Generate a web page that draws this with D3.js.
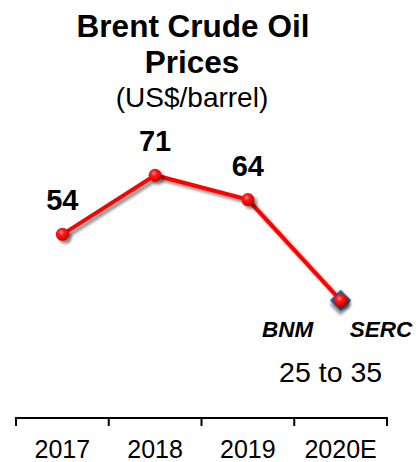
<!DOCTYPE html>
<html><head><meta charset="utf-8">
<script src="https://cdn.jsdelivr.net/npm/d3@7/dist/d3.min.js"></script>
<style>
html,body{margin:0;padding:0;background:#fff;}
svg{display:block;font-family:Arial,"Liberation Sans",sans-serif;}
</style></head>
<body>
<svg id="c" width="416" height="462"></svg>
<script>
const categories = ["2017", "2018", "2019", "2020E"];
const prices = [54, 71, 64, 35];
const valueLabels = ["54", "71", "64", null];
const titleLines = ["Brent Crude Oil", "Prices"];
const subtitle = "(US$/barrel)";
const estimateSources = ["BNM", "SERC"];
const estimateRange = "25 to 35";

const svg = d3.select("#c");
const defs = svg.append("defs");
const grad = defs.append("radialGradient").attr("id","ball").attr("cx","40%").attr("cy","35%").attr("r","65%");
grad.append("stop").attr("offset","0%").attr("stop-color","#ff8a8a");
grad.append("stop").attr("offset","35%").attr("stop-color","#ff1a1a");
grad.append("stop").attr("offset","100%").attr("stop-color","#c00000");
const sh = defs.append("filter").attr("id","shadow").attr("x","-50%").attr("y","-50%").attr("width","200%").attr("height","200%");
sh.append("feGaussianBlur").attr("in","SourceAlpha").attr("stdDeviation","1.6").attr("result","b");
sh.append("feOffset").attr("in","b").attr("dx","3").attr("dy","3").attr("result","o");
sh.append("feComponentTransfer").attr("in","o").attr("result","o2").append("feFuncA").attr("type","linear").attr("slope","0.45");
const mg = sh.append("feMerge");
mg.append("feMergeNode").attr("in","o2");
mg.append("feMergeNode").attr("in","SourceGraphic");

const x = d3.scaleBand().domain(categories).range([16, 387]).padding(0);
const y = d3.scaleLinear().domain([0, 80]).range([422, 144]);
const cx = c => x(c) + x.bandwidth()/2;

// Title
svg.append("text").attr("x",193).attr("y",37).attr("text-anchor","middle")
  .attr("font-size",31.5).attr("font-weight","bold").text(titleLines[0]);
svg.append("text").attr("x",192).attr("y",73).attr("text-anchor","middle")
  .attr("font-size",31.5).attr("font-weight","bold").text(titleLines[1]);
svg.append("text").attr("x",192).attr("y",107).attr("text-anchor","middle")
  .attr("font-size",28).text(subtitle);

// Axis
const gx = svg.append("g").attr("transform","translate(0,418)");
gx.append("path").attr("d", d3.line()([[x.range()[0],0],[x.range()[1],0]])).attr("stroke","#000").attr("stroke-width",2);
const tickPos = categories.map(c => x(c)).concat([x.range()[1]]);
gx.selectAll("line.t").data(tickPos).join("line").attr("class","t")
  .attr("x1",d=>d).attr("x2",d=>d).attr("y1",-1).attr("y2",8)
  .attr("stroke","#000").attr("stroke-width",2);
gx.selectAll("text.l").data(categories).join("text").attr("class","l")
  .attr("x",d=>cx(d)).attr("y",40).attr("text-anchor","middle")
  .attr("font-size",25).text(d=>d);

// Line
const pts = categories.map((c,i)=>[cx(c), y(prices[i])]);
svg.append("path").attr("d", d3.line()(pts)).attr("fill","none")
  .attr("stroke","#ff0000").attr("stroke-width",4).attr("filter","url(#shadow)");

// Diamond for estimate
const last = categories.length-1;
svg.append("path").attr("d", d3.symbol(d3.symbolSquare, 200)())
  .attr("transform",`translate(${pts[last][0]},${pts[last][1]}) rotate(45)`)
  .attr("fill","#1f5fa6").attr("stroke","#2a4f80").attr("stroke-width",1)
  .attr("filter","url(#shadow)");

// Markers
svg.selectAll("circle.m").data(pts).join("circle").attr("class","m")
  .attr("cx",d=>d[0]).attr("cy",d=>d[1]).attr("r",6.5)
  .attr("fill","url(#ball)").attr("filter","url(#shadow)");

// Value labels
svg.selectAll("text.v").data(categories.filter((c,i)=>valueLabels[i]!==null)).join("text").attr("class","v")
  .attr("x",c=>cx(c)).attr("y",(c)=>y(prices[categories.indexOf(c)])-24)
  .attr("text-anchor","middle").attr("font-size",29).attr("font-weight","bold")
  .text(c=>valueLabels[categories.indexOf(c)]);

// Estimate annotation
const ex = cx(categories[last]);
svg.append("text").attr("x",ex-53).attr("y",337).attr("text-anchor","middle")
  .attr("font-size",22.5).attr("font-weight","bold").attr("font-style","italic").text(estimateSources[0]);
svg.append("text").attr("x",ex+9).attr("y",337).attr("text-anchor","start")
  .attr("font-size",22.5).attr("font-weight","bold").attr("font-style","italic").text(estimateSources[1]);
svg.append("text").attr("x",ex-10).attr("y",382).attr("text-anchor","middle")
  .attr("font-size",28.5).text(estimateRange);
</script>
</body></html>
